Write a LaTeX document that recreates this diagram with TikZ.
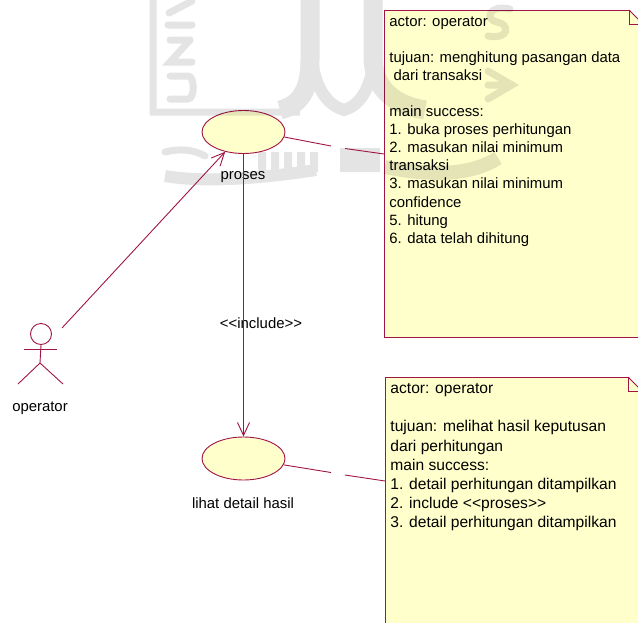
\documentclass[tikz,border=0pt]{standalone}
\usepackage{fontspec}
\setmainfont{Liberation Sans}
\usetikzlibrary{shapes, arrows.meta, positioning}
\definecolor{umlline}{RGB}{160,20,70}
\definecolor{umlfill}{RGB}{255,255,204}
\definecolor{logogray}{RGB}{228,228,228}
\tikzstyle{usecase} = [ellipse, minimum width=83pt, minimum height=43pt, inner sep=0pt, draw=umlline, fill=umlfill]
\tikzstyle{note} = [rectangle, anchor=north west, inner sep=0pt, draw=umlline, fill=umlfill]
\tikzstyle{notetext} = [anchor=north west, inner xsep=5pt, inner ysep=6pt, align=left]
\tikzstyle{label} = [inner sep=0pt]
\tikzstyle{umledge} = [draw=umlline]
\tikzstyle{logo} = [draw=logogray]
\tikzstyle{arrow} = [umledge,-{Straight Barb[length=13pt,width=12pt]}]

\begin{document}
\begin{tikzpicture}[x=1pt, y=-1pt, line width=0.9pt, font=\fontsize{14.9}{18.1}\selectfont]
        \clip (0,0) rectangle (638,622);
        \useasboundingbox (0,0) rectangle (638,622);

        % Nodes
        \node (proses) [usecase] at (243.5,132) {};
        \node (lihat) [usecase] at (243.5,458.5) {};
        \node (note1) [note, minimum width=270pt, minimum height=327pt] at (384,10) {};
        \node (note2) [note, minimum width=270pt, minimum height=260pt] at (385,377) {};

        % Logo behind the diagram
        \begin{scope}[transparency group, blend mode=multiply]
            \draw [logo, line width=7pt] (153,-5) -- (153,112) -- (300,112);
            \draw [logo, line width=19pt] (310,-5) -- (310,60) .. controls (310,90) and (300,105) .. (280,110);
            \draw [logo, line width=12pt] (312,60) .. controls (316,92) and (330,106) .. (344,110) .. controls (358,106) and (370,92) .. (374,60);
            \draw [logo, line width=19pt] (373,-5) -- (373,60) .. controls (375,90) and (395,105) .. (425,110);
            \begin{scope}[logo, line cap=round, line width=7pt]
                \draw [logo] (170,76) -- (188,76) .. controls (195,76) and (195,99) .. (188,99) -- (170,99);
                \draw [logo] (190,40) -- (170,62) -- (192,62);
                \draw [logo] (170,40) -- (190,40);
                \draw [logo] (168,25) -- (192,25);
                \draw [logo] (169,13) -- (192,1);
                \draw [logo] (510,9) .. controls (488,4) and (485,20) .. (497,22) .. controls (510,24) and (510,40) .. (488,36);
                \draw [logo] (488,71) -- (512,85) -- (488,99);
                \draw [logo] (488,85) -- (505,85);
                \draw [logo] (165,152) .. controls (180,148) and (195,150) .. (205,156);
            \end{scope}
            \draw [logo, line width=12pt] (165,176) .. controls (200,182) and (250,180) .. (316,170);
            \foreach \x in {262,275,288,301,314}
                \draw [logo, line width=8pt] (\x,152) -- (\x,172);
            \draw [logo, line width=24pt] (340,160) -- (380,160);
            \draw [logo, line width=14pt] (385,167) .. controls (430,176) and (470,176) .. (498,158);
        \end{scope}

        \node (prosestext) [label] at (243,177) {proses};
        \node (lihattext) [label] at (243,503) {lihat detail hasil};
        \node (includetext) [label] at (261,323) {<{}<include>{}>};
        \node (operatortext) [label] at (40,408) {operator};

        \node (note1text) [notetext] at (note1.north west) {
            actor: operator \\
            ~ \\
            tujuan: menghitung pasangan data \\
            \ dari transaksi \\
            ~ \\
            main success: \\
            1. buka proses perhitungan \\
            2. masukan nilai minimum \\
            transaksi \\
            3. masukan nilai minimum \\
            confidence \\
            5. hitung \\
            6. data telah dihitung
        };
        \node (note2text) [notetext, font=\fontsize{15.6}{19.2}\selectfont] at (note2.north west) {
            actor: operator \\
            ~ \\
            tujuan: melihat hasil keputusan \\
            dari perhitungan \\
            main success: \\
            1. detail perhitungan ditampilkan \\
            2. include <{}<proses>{}> \\
            3. detail perhitungan ditampilkan
        };

        % Note corners
        \fill [white] (629,9) -- (640,9) -- (640,21) -- cycle;
        \draw [umledge] (629,10) -- (629,24) -- (640,24);
        \draw [umledge] (629,10) -- (640,21);
        \fill [white] (628,376) -- (640,376) -- (640,389) -- cycle;
        \draw [umledge] (628,377) -- (628,391) -- (640,391);
        \draw [umledge] (628,377) -- (640,389);

        % Actor
        \node (head) [circle, minimum size=21pt, inner sep=0pt, draw=umlline] at (41,334) {};
        \coordinate (hip) at (40,363);
        \coordinate (armleft) at (24,349);
        \coordinate (armright) at (57,349);
        \coordinate (legleft) at (18,384);
        \coordinate (legright) at (63,384);
        \coordinate (hand) at (62,328);
        \draw [umledge] (head.south) -- (hip);
        \draw [umledge] (armleft) -- (armright);
        \draw [umledge] (legleft) -- (hip) -- (legright);

        % Arrows
        \coordinate (gap1a) at (331,146);
        \coordinate (gap1b) at (345,148.5);
        \coordinate (note1end) at (384,154);
        \coordinate (gap2a) at (331,472.5);
        \coordinate (gap2b) at (345,475);
        \coordinate (note2end) at (385,481);
        \draw [arrow] (hand) -- (proses);
        \draw [arrow] (proses) -- (lihat);
        \draw [umledge] (proses.-7) -- (gap1a);
        \draw [umledge] (gap1b) -- (note1end);
        \draw [umledge] (lihat.-9) -- (gap2a);
        \draw [umledge] (gap2b) -- (note2end);
    \end{tikzpicture}
\end{document}
